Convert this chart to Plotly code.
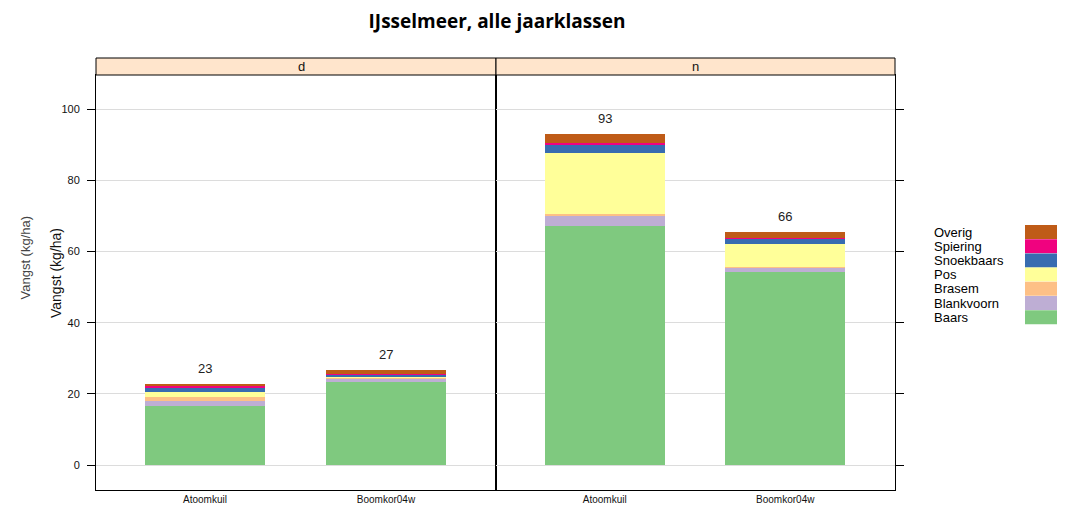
import plotly.graph_objects as go

# ---- data ----
panels = ["d", "n"]
locations = ["Atoomkuil", "Boomkor04w"]
species = ["Baars", "Blankvoorn", "Brasem", "Pos", "Snoekbaars", "Spiering", "Overig"]
colors = ["#7FC97F", "#BEAED4", "#FDC086", "#FFFF99", "#386CB0", "#F0027F", "#BF5B17"]

# values per species: [Atoomkuil, Boomkor04w]
d_values = {
    "Baars":      [16.6, 23.4],
    "Blankvoorn": [1.4, 0.9],
    "Brasem":     [1.2, 0.3],
    "Pos":        [1.4, 0.3],
    "Snoekbaars": [1.0, 0.4],
    "Spiering":   [0.7, 0.3],
    "Overig":     [0.5, 1.0],
}
n_values = {
    "Baars":      [67.2, 54.3],
    "Blankvoorn": [2.9, 1.1],
    "Brasem":     [0.3, 0.1],
    "Pos":        [17.2, 6.5],
    "Snoekbaars": [2.4, 1.7],
    "Spiering":   [0.4, 0.1],
    "Overig":     [2.6, 1.7],
}
y_ticks = [0, 20, 40, 60, 80, 100]

OFF = 8  # default page body margin
W, H = 1065 - OFF, 507 - OFF
def px(x):
    return (x - OFF) / W
def py(y):
    return 1 - (y - OFF) / H

fig = go.Figure()
panel_data = [d_values, n_values]
axes = [("x", "y"), ("x2", "y2")]
for pdata, (xa, ya) in zip(panel_data, axes):
    for sp, col in zip(species, colors):
        fig.add_trace(go.Bar(
            x=locations, y=pdata[sp], xaxis=xa, yaxis=ya,
            marker=dict(color=col, line=dict(width=0)),
            width=0.663, showlegend=False, name=sp,
        ))

# totals labels
for pdata, (xa, ya) in zip(panel_data, axes):
    for i, loc in enumerate(locations):
        tot = sum(pdata[sp][i] for sp in species)
        fig.add_annotation(x=loc, y=tot, xref=xa, yref=ya, text=f"{tot:.0f}",
                           showarrow=False, yanchor="bottom", yshift=6,
                           font=dict(family="Liberation Sans, Arial", size=13, color="#222"))

x1 = [px(96), px(496)]
x2 = [px(496), px(895)]
ydom = [py(490), py(75)]
yr = [-7.0, 109.55]
xr = [-0.602, 1.608]

common_x = dict(range=xr, showline=True, mirror=True, linecolor="black", linewidth=1,
                ticks="", showgrid=False, zeroline=False,
                tickfont=dict(family="Liberation Sans, Arial", size=10, color="#111"))
common_y = dict(range=yr, showline=True, mirror=True, linecolor="black", linewidth=1,
                tickvals=y_ticks, ticks="outside", ticklen=8, tickcolor="black",
                ticklabelstandoff=5,
                showgrid=True, gridcolor="#dcdcdc", gridwidth=1, zeroline=False,
                tickfont=dict(family="Liberation Sans, Arial", size=11, color="#111"))

fig.update_layout(
    width=W, height=H, barmode="stack", bargap=0,
    margin=dict(l=0, r=0, t=0, b=0),
    paper_bgcolor="white", plot_bgcolor="white",
    xaxis=dict(domain=x1, anchor="y", **common_x),
    xaxis2=dict(domain=x2, anchor="y2", **common_x),
    yaxis=dict(domain=ydom, anchor="x", side="left", **common_y),
    yaxis2=dict(domain=ydom, anchor="x2", side="right", showticklabels=False, **common_y),
    title=dict(text="<b>IJsselmeer, alle jaarklassen</b>", x=px(497), xanchor="center",
               y=py(21), yanchor="middle",
               font=dict(family="Open Sans, Lato", size=19, color="black")),
)

# strips
for (xa, xb), lab in zip([x1, x2], panels):
    fig.add_shape(type="rect", xref="paper", yref="paper", x0=xa, x1=xb,
                  y0=py(75), y1=py(58), fillcolor="#FFE5CC",
                  line=dict(color="black", width=1), layer="above")
    fig.add_annotation(xref="paper", yref="paper", x=(xa + xb) / 2, y=py(66.5),
                       text=lab, showarrow=False, yanchor="middle",
                       font=dict(family="Liberation Sans, Arial", size=13, color="#111"))

# y axis title
fig.add_annotation(xref="paper", yref="paper", x=px(46), y=py(273), text="Vangst (kg/ha)",
                   textangle=-90, showarrow=False,
                   font=dict(family="Liberation Sans, Arial", size=14, color="#111"))
fig.add_annotation(xref="paper", yref="paper", x=px(16), y=py(258), text="Vangst (kg/ha)",
                   textangle=-90, showarrow=False,
                   font=dict(family="Liberation Sans, Arial", size=13, color="#444"))

# legend (text left, swatch right)
row0 = 232
step = 14.2
for k, (sp, col) in enumerate(zip(species[::-1], colors[::-1])):
    yc = row0 + k * step
    fig.add_annotation(xref="paper", yref="paper", x=px(932), y=py(yc), text=sp,
                       showarrow=False, xanchor="left", yanchor="middle",
                       font=dict(family="Liberation Sans, Arial", size=13, color="black"))
    fig.add_shape(type="rect", xref="paper", yref="paper", x0=px(1025), x1=px(1070),
                  y0=py(yc + 7), y1=py(yc - 7), fillcolor=col, line=dict(width=0))

fig.write_html("out.html")
